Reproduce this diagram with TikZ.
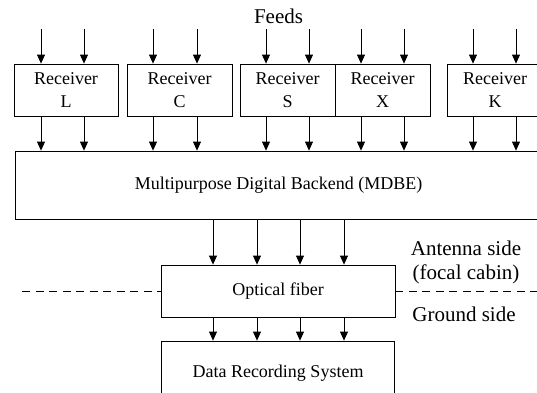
\documentclass[tikz,border=0pt]{standalone}
\usepackage{fontspec}
\setmainfont{Liberation Serif}
\usetikzlibrary{arrows.meta}
\tikzset{
  box/.style={draw, line width=0.8pt, inner sep=0pt, align=center,
              font=\fontsize{18}{23}\selectfont},
  arr/.style={line width=0.8pt, -{Triangle[width=8pt,length=9pt]}},
  lbl/.style={font=\fontsize{21}{24}\selectfont, inner sep=0pt},
  sep/.style={line width=0.8pt, dash pattern=on 8pt off 5.5pt}
}
\begin{document}
\begin{tikzpicture}[x=1pt,y=-1pt]
\useasboundingbox (0,0) rectangle (537,392);
\clip (0,0) rectangle (537,392);
% receivers
\node[box, minimum width=104pt, minimum height=52pt] (L) at (66,90) {Receiver\\L};
\node[box, minimum width=105pt, minimum height=52pt] (C) at (179.5,90) {Receiver\\C};
\node[box, minimum width=95pt, minimum height=52pt] (S) at (287.5,90) {Receiver\\S};
\node[box, minimum width=95pt, minimum height=52pt] (X) at (382.5,90) {Receiver\\X};
\node[box, minimum width=96pt, minimum height=52pt] (K) at (495,90) {Receiver\\K};
% backend
\node[box, minimum width=527pt, minimum height=68pt] (M) at (278.5,185) {Multipurpose Digital Backend (MDBE)};
\node[box, minimum width=234pt, minimum height=52pt] (O) at (278,291) {Optical fiber};
\node[box, minimum width=233pt, minimum height=64pt] (D) at (278,373) {Data Recording System};
% labels
\node[lbl] (feeds) at (278.5,16) {Feeds};
\node[lbl] (ant) at (466,248) {Antenna side};
\node[lbl] (foc) at (466,274) {(focal cabin)};
\node[lbl] (gnd) at (464,314) {Ground side};
% feed arrows
\foreach \x [count=\i] in {41,84,153,197,266,309,361,404,473,516} {
  \coordinate (f\i) at (\x,29);
}
\foreach \i/\n in {1/L,2/L,3/C,4/C,5/S,6/S,7/X,8/X,9/K,10/K} {
  \draw[arr] (f\i) -- (f\i |- \n.north);
  \draw[arr] (f\i |- \n.south) -- (f\i |- M.north);
}
% backend to fiber to recorder
\foreach \x [count=\i] in {213,257,300,344} {
  \coordinate (g\i) at (\x,0);
  \draw[arr] (g\i |- M.south) -- (g\i |- O.north);
  \draw[arr] (g\i |- O.south) -- (g\i |- D.north);
}
% separator
\coordinate (dl) at (22,291.4);
\coordinate (dr) at (537,291.4);
\draw[sep] (dl) -- (dl -| O.west);
\draw[sep] (dr -| O.east) -- (dr);
\end{tikzpicture}
\end{document}
